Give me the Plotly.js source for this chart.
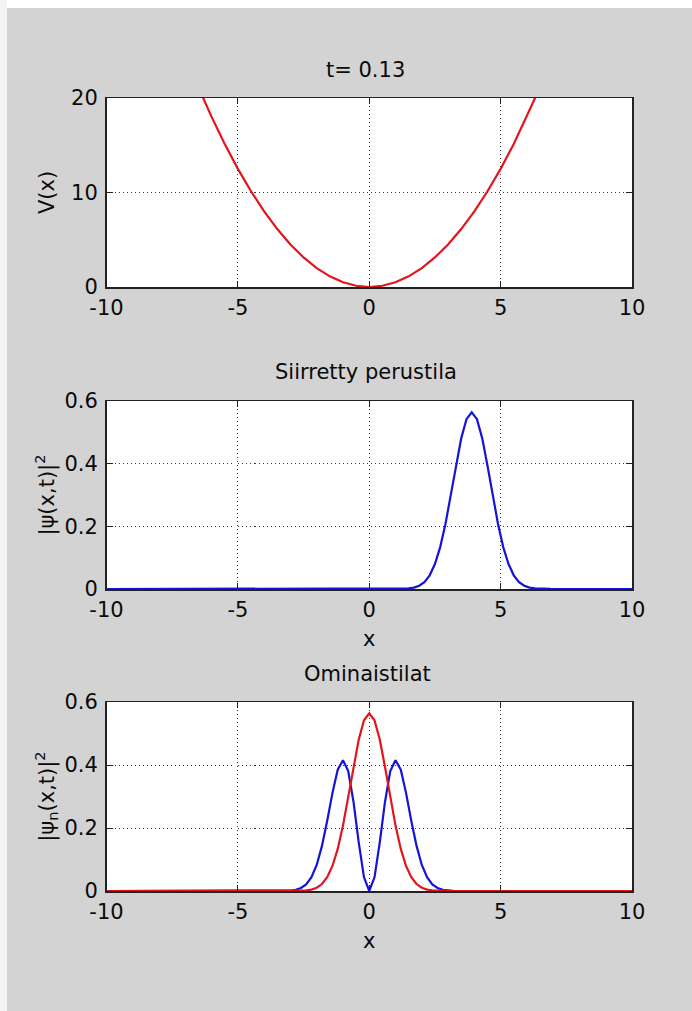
<!DOCTYPE html>
<html>
<head>
<meta charset="utf-8">
<script src="https://cdn.plot.ly/plotly-3.0.1.min.js"></script>
<style>html,body{margin:0;padding:0;background:#d3d3d3;}#chart{width:692px;height:1011px;}</style>
</head>
<body>
<div id="chart"></div>
<script>
// ---- Data ----
const figTitle = "t= 0.13";
const title2 = "Siirretty perustila";
const title3 = "Ominaistilat";
const xTicks = [-10, -5, 0, 5, 10];
const xTickText = ["-10", "-5", "0", "5", "10"];

// Panel 1: potential V(x)
const potX = [-10, -7, -6.5, -6, -5.5, -5, -4.5, -4, -3.5, -3, -2.5, -2, -1.5, -1, -0.5, 0, 0.5, 1, 1.5, 2, 2.5, 3, 3.5, 4, 4.5, 5, 5.5, 6, 6.5, 7, 10];
const potV = [50, 24.5, 21.13, 18, 15.13, 12.5, 10.13, 8, 6.13, 4.5, 3.13, 2, 1.13, 0.5, 0.13, 0, 0.13, 0.5, 1.13, 2, 3.13, 4.5, 6.13, 8, 10.13, 12.5, 15.13, 18, 21.13, 24.5, 50];

// Panel 2: displaced ground state |psi(x,t)|^2
const shiftX = [-10, 0, 0.9, 1.1, 1.3, 1.5, 1.7, 1.9, 2.1, 2.3, 2.5, 2.7, 2.9, 3.1, 3.3, 3.5, 3.7, 3.9, 4.1, 4.3, 4.5, 4.7, 4.9, 5.1, 5.3, 5.5, 5.7, 5.9, 6.1, 6.3, 6.5, 6.9, 10];
const shiftP = [0, 0, 0.0001, 0.0002, 0.0007, 0.0018, 0.0045, 0.0103, 0.0221, 0.0436, 0.0795, 0.1337, 0.2076, 0.2975, 0.3936, 0.4808, 0.5421, 0.5642, 0.5421, 0.4808, 0.3936, 0.2975, 0.2076, 0.1337, 0.0795, 0.0436, 0.0221, 0.0103, 0.0045, 0.0018, 0.0007, 0.0001, 0];

// Panel 3: eigenstates |psi_n(x,t)|^2
const eigX = [-10, -4, -3.4, -3.2, -3.0, -2.8, -2.6, -2.4, -2.2, -2.0, -1.8, -1.6, -1.4, -1.2, -1.0, -0.8, -0.6, -0.4, -0.2, 0, 0.2, 0.4, 0.6, 0.8, 1.0, 1.2, 1.4, 1.6, 1.8, 2.0, 2.2, 2.4, 2.6, 2.8, 3.0, 3.2, 3.4, 4, 10];
const eig0 = [0, 0, 0, 0, 0.0001, 0.0002, 0.0007, 0.0018, 0.0045, 0.0103, 0.0221, 0.0436, 0.0795, 0.1337, 0.2076, 0.2975, 0.3936, 0.4808, 0.5421, 0.5642, 0.5421, 0.4808, 0.3936, 0.2975, 0.2076, 0.1337, 0.0795, 0.0436, 0.0221, 0.0103, 0.0045, 0.0018, 0.0007, 0.0002, 0.0001, 0, 0, 0, 0];
const eig1 = [0, 0, 0, 0.0004, 0.0013, 0.0035, 0.0095, 0.0207, 0.0436, 0.0826, 0.1432, 0.2232, 0.3116, 0.3851, 0.4152, 0.3808, 0.2834, 0.1539, 0.0434, 0, 0.0434, 0.1539, 0.2834, 0.3808, 0.4152, 0.3851, 0.3116, 0.2232, 0.1432, 0.0826, 0.0436, 0.0207, 0.0095, 0.0035, 0.0013, 0.0004, 0, 0, 0];

// ---- Styling ----
const RED = "#e3141c", BLUE = "#1414d8";
const FONT = {family: "DejaVu Sans, Arial, sans-serif", size: 21, color: "#0a0a0a"};
const W = 692, H = 1011;
const xDom = [106.5 / W, 632 / W];
function yDom(top, bottom) { return [(H - bottom) / H, (H - top) / H]; }

function xAxis(anchor, withTitle) {
  const a = {
    domain: xDom, anchor: anchor, range: [-10, 10], tickvals: xTicks, ticktext: xTickText,
    ticks: "inside", ticklen: 6, tickcolor: "#222", mirror: "ticks",
    showline: true, linecolor: "#222", linewidth: 1.5,
    showgrid: true, gridcolor: "#333", gridwidth: 1, griddash: "1px,3px",
    zeroline: false, tickfont: FONT, ticklabelstandoff: 1, fixedrange: true
  };
  if (withTitle) a.title = {text: "x", font: FONT, standoff: 10};
  return a;
}
function yAxis(anchor, dom, range, dtick, titleText, standoff) {
  return {
    domain: dom, anchor: anchor, range: range, dtick: dtick, tick0: 0,
    ticks: "inside", ticklen: 6, tickcolor: "#222", mirror: "ticks",
    showline: true, linecolor: "#222", linewidth: 1.5,
    showgrid: true, gridcolor: "#333", gridwidth: 1, griddash: "1px,3px",
    zeroline: false, tickfont: FONT, ticklabelstandoff: 3, fixedrange: true,
    title: {text: titleText, font: FONT, standoff: standoff}
  };
}

const traces = [
  {x: potX, y: potV, xaxis: "x", yaxis: "y", mode: "lines", line: {color: RED, width: 2.2}, showlegend: false},
  {x: shiftX, y: shiftP, xaxis: "x2", yaxis: "y2", mode: "lines", line: {color: BLUE, width: 2.2}, showlegend: false},
  {x: eigX, y: eig1, xaxis: "x3", yaxis: "y3", mode: "lines", line: {color: BLUE, width: 2.2}, showlegend: false},
  {x: eigX, y: eig0, xaxis: "x3", yaxis: "y3", mode: "lines", line: {color: RED, width: 2.2}, showlegend: false}
];

const layout = {
  width: W, height: H,
  margin: {l: 0, r: 0, t: 0, b: 0},
  paper_bgcolor: "#d3d3d3", plot_bgcolor: "#ffffff",
  font: FONT, showlegend: false,
  xaxis: xAxis("y", false),
  yaxis: yAxis("x", yDom(98, 287), [0, 20], 10, "V(x)", 10),
  xaxis2: xAxis("y2", true),
  yaxis2: yAxis("x2", yDom(401, 589), [0, 0.6], 0.2, "|ψ(x,t)|<sup>2</sup>", 4),
  xaxis3: xAxis("y3", true),
  yaxis3: yAxis("x3", yDom(702, 891), [0, 0.6], 0.2, "|ψ<sub>n</sub>(x,t)|<sup>2</sup>", 4),
  annotations: [
    {text: figTitle, xref: "paper", yref: "paper", x: 365 / W, y: (H - 70) / H, showarrow: false, font: FONT, xanchor: "center", yanchor: "middle"},
    {text: title2, xref: "paper", yref: "paper", x: 366 / W, y: (H - 372) / H, showarrow: false, font: FONT, xanchor: "center", yanchor: "middle"},
    {text: title3, xref: "paper", yref: "paper", x: 367 / W, y: (H - 674) / H, showarrow: false, font: FONT, xanchor: "center", yanchor: "middle"}
  ],
  shapes: [
    {type: "rect", xref: "paper", yref: "paper", x0: 0, x1: 1, y0: (H - 8) / H, y1: 1, fillcolor: "#ffffff", line: {width: 0}, layer: "below"},
    {type: "rect", xref: "paper", yref: "paper", x0: 0, x1: 7 / W, y0: 0, y1: 1, fillcolor: "#f4f4f4", line: {width: 0}, layer: "below"}
  ]
};

Plotly.newPlot("chart", traces, layout, {displayModeBar: false, staticPlot: true});
</script>
</body>
</html>
